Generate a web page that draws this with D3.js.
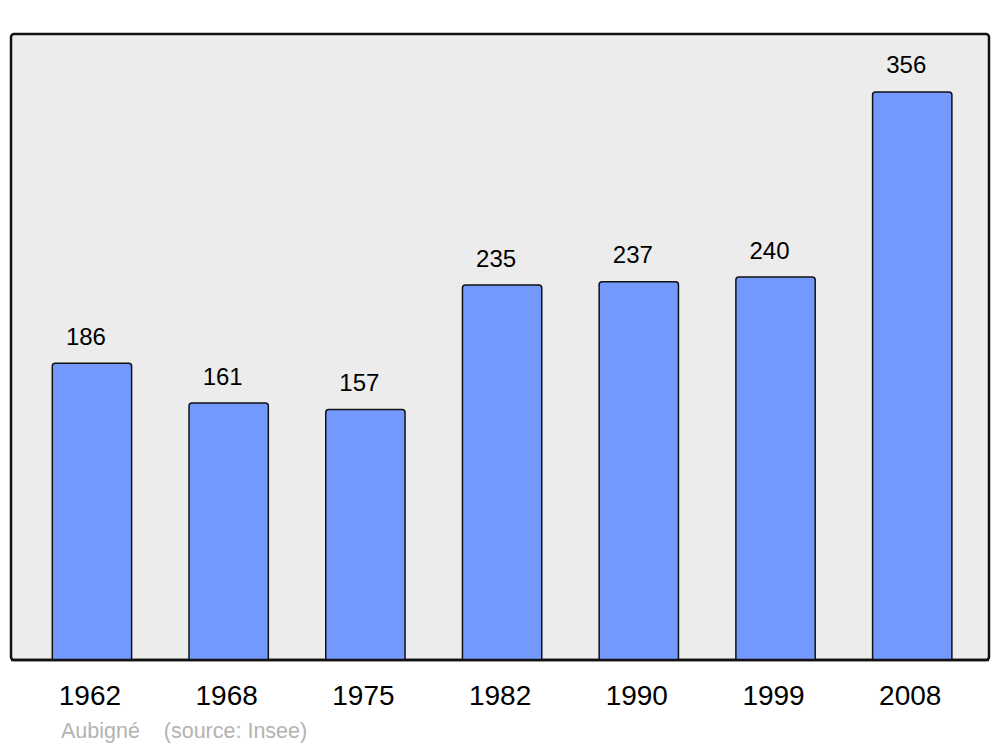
<!DOCTYPE html>
<html><head><meta charset="utf-8">
<script src="https://cdn.jsdelivr.net/npm/d3@7/dist/d3.min.js"></script>
<style>body{margin:0;background:#fff}svg{display:block}</style>
</head><body>
<svg id="c" width="1000" height="747"></svg>
<script>
const years = ["1962","1968","1975","1982","1990","1999","2008"];
const population = [186,161,157,235,237,240,356];
const commune = "Aubigné";
const sourceText = "(source: Insee)";

const svg = d3.select("#c");
const panel = {x0: 11, x1: 989, y0: 34, y1: 660};

svg.append("rect").attr("x", panel.x0).attr("y", panel.y0)
  .attr("width", panel.x1 - panel.x0).attr("height", panel.y1 - panel.y0)
  .attr("rx", 3).attr("fill", "#ececec").attr("stroke", "#111").attr("stroke-width", 2.5);

const x = d3.scaleBand().domain(years).range([23.6, 980.6]).paddingInner(0.42).paddingOuter(0.21);
const y = d3.scaleLinear().domain([0, 392.3]).range([panel.y1, panel.y0]);

const r = 3;
function barPath(x0, w, yt, yb) {
  return `M${x0},${yb}V${yt + r}Q${x0},${yt} ${x0 + r},${yt}H${x0 + w - r}Q${x0 + w},${yt} ${x0 + w},${yt + r}V${yb}`;
}

const font = "Liberation Sans, Arial, sans-serif";
const g = svg.append("g");
years.forEach((yr, i) => {
  const v = population[i];
  g.append("path").attr("d", barPath(x(yr), x.bandwidth(), y(v), panel.y1))
    .attr("fill", "#7399ff").attr("stroke", "#111").attr("stroke-width", 1.5);
  g.append("text").attr("x", x(yr) + x.bandwidth() / 2 - 6).attr("y", y(v) - 18.5)
    .attr("text-anchor", "middle").attr("font-family", font)
    .attr("font-size", 24).attr("fill", "#000").text(v);
  g.append("text").attr("x", x(yr) + x.bandwidth() / 2 - 2).attr("y", 705)
    .attr("text-anchor", "middle").attr("font-family", font)
    .attr("font-size", 28).attr("fill", "#000").text(yr);
});

svg.append("line").attr("x1", panel.x0).attr("x2", panel.x1).attr("y1", panel.y1).attr("y2", panel.y1)
  .attr("stroke", "#111").attr("stroke-width", 2.5);

svg.append("text").attr("x", 61).attr("y", 737.5)
  .attr("font-family", font).attr("font-size", 21.5)
  .attr("fill", "#b3b3b3").attr("xml:space", "preserve").text(commune + "    " + sourceText);
</script>
</body></html>
